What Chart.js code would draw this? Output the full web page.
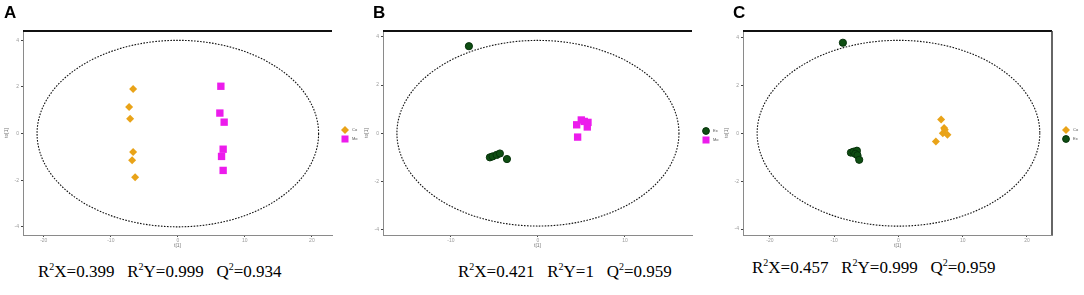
<!DOCTYPE html>
<html><head><meta charset="utf-8">
<script src="https://cdn.jsdelivr.net/npm/chart.js@4/dist/chart.umd.min.js"></script>
<style>
html,body{margin:0;padding:0;background:#fff}
body{width:1084px;height:295px;overflow:hidden;position:relative}
.panel{position:absolute;top:0;width:360px;height:250px}
.panel canvas{display:block}
.letter{position:absolute;top:3px;font:bold 17px "Liberation Sans",Arial,sans-serif;color:#000}
.stats{position:absolute;font-family:"Liberation Serif","Times New Roman",serif;font-size:17px;line-height:17px;white-space:pre;color:#000}
.stats sup{font-size:10px;line-height:0;vertical-align:0;position:relative;top:-7px}
</style>
</head><body>
<div class="panel" style="left:0"><canvas id="cA" width="360" height="250"></canvas></div>
<div class="panel" style="left:360px"><canvas id="cB" width="360" height="250"></canvas></div>
<div class="panel" style="left:720px"><canvas id="cC" width="364" height="250"></canvas></div>
<div class="letter" style="left:4px">A</div>
<div class="letter" style="left:373px">B</div>
<div class="letter" style="left:733px">C</div>
<div class="stats" style="left:38px;top:263px">R<sup>2</sup>X=0.399   R<sup>2</sup>Y=0.999   Q<sup>2</sup>=0.934</div>
<div class="stats" style="left:458px;top:263px">R<sup>2</sup>X=0.421   R<sup>2</sup>Y=1   Q<sup>2</sup>=0.959</div>
<div class="stats" style="left:752px;top:259px">R<sup>2</sup>X=0.457   R<sup>2</sup>Y=0.999   Q<sup>2</sup>=0.959</div>
<script>
// ---- Panel A data ----
const aOrangeX = [-6.67, -7.27, -7.12, -6.67, -6.82, -6.37];
const aOrangeY = [1.91, 1.14, 0.64, -0.79, -1.14, -1.87];
const aMagentaX = [6.42, 6.27, 6.91, 6.76, 6.52, 6.76];
const aMagentaY = [2.03, 0.88, 0.49, -0.67, -0.98, -1.58];
const aXTicks = [-20, -10, 0, 10, 20];
const aYTicks = [-4, -2, 0, 2, 4];
// ---- Panel B data ----
const bGreenX = [-7.93, -5.52, -5.21, -4.75, -4.37, -3.56];
const bGreenY = [3.61, -1.00, -0.96, -0.90, -0.84, -1.07];
const bMagentaX = [4.45, 4.98, 5.75, 5.67, 4.56, 5.32];
const bMagentaY = [0.35, 0.55, 0.45, 0.26, -0.16, 0.49];
const bXTicks = [-10, 0, 10];
const bYTicks = [-4, -2, 0, 2, 4];
// ---- Panel C data ----
const cOrangeX = [6.64, 7.11, 6.90, 7.62, 5.82, 7.21];
const cOrangeY = [0.57, 0.22, 0.00, -0.06, -0.35, 0.15];
const cGreenX = [-8.65, -7.40, -7.00, -6.47, -6.73, -6.38, -6.11];
const cGreenY = [3.78, -0.81, -0.77, -0.73, -0.86, -0.92, -1.11];
const cXTicks = [-20, -10, 0, 10, 20];
const cYTicks = [-4, -2, 0, 2, 4];
// ---- group labels / ellipse radii (data units) ----
const groupNames = {orange: 'Co', magenta: 'Mo', green: 'Ex'};
const ellipseA = [21, 4.0];
const ellipseB = [16.2, 3.85];
const ellipseC = [22, 3.88];

const STY = {
  orange: {pointStyle: 'rectRot', radius: 4, bg: '#E9A318', bd: '#E9A318'},
  magenta: {pointStyle: 'rect', radius: 5.2, bg: '#EC1CEC', bd: '#EC1CEC'},
  green: {pointStyle: 'circle', radius: 3.6, bg: '#0E4E12', bd: '#06320A'}
};

function pts(xs, ys){ return xs.map((x,i)=>({x:x, y:ys[i]})); }
function ds(key, xs, ys){
  const s = STY[key];
  return {label: groupNames[key], data: pts(xs, ys), pointStyle: s.pointStyle,
    pointRadius: s.radius, pointHoverRadius: s.radius, backgroundColor: s.bg,
    borderColor: s.bd, borderWidth: key==='green'?1:0, showLine:false, _key:key};
}

const deco = {
  id: 'deco',
  beforeDatasetsDraw(chart, args, o){
    const ctx = chart.ctx, xs = chart.scales.x, ys = chart.scales.y, ca = chart.chartArea;
    const cx = xs.getPixelForValue(0), cy = ys.getPixelForValue(0);
    const rx = xs.getPixelForValue(o.ell[0]) - cx, ry = cy - ys.getPixelForValue(o.ell[1]);
    ctx.save();
    ctx.strokeStyle = '#111'; ctx.lineWidth = 1.1; ctx.setLineDash([1.6, 1.4]);
    ctx.beginPath(); ctx.ellipse(cx, cy, rx, ry, 0, 0, Math.PI*2); ctx.stroke();
    ctx.setLineDash([]);
    ctx.strokeStyle = '#111'; ctx.lineWidth = 2;
    ctx.beginPath(); ctx.moveTo(ca.left, ca.top); ctx.lineTo(ca.right, ca.top); ctx.stroke();
    if (o.rightBorder){
      ctx.strokeStyle = '#333'; ctx.lineWidth = 1.5;
      ctx.beginPath(); ctx.moveTo(ca.right, ca.top); ctx.lineTo(ca.right, ca.bottom); ctx.stroke();
    }
    ctx.restore();
  },
  afterDraw(chart, args, o){
    const ctx = chart.ctx;
    ctx.save();
    chart.data.datasets.forEach((d, i) => {
      const s = STY[d._key];
      const x = o.lx, y = o.ly + i*9;
      ctx.fillStyle = s.bg; ctx.strokeStyle = s.bd; ctx.lineWidth = 1;
      ctx.beginPath();
      if (s.pointStyle === 'circle'){ ctx.arc(x, y, 3.4, 0, Math.PI*2); ctx.fill(); ctx.stroke(); }
      else if (s.pointStyle === 'rect'){ ctx.fillRect(x-3.5, y-3.5, 7, 7); }
      else { ctx.moveTo(x, y-4); ctx.lineTo(x+4, y); ctx.lineTo(x, y+4); ctx.lineTo(x-4, y); ctx.closePath(); ctx.fill(); }
      ctx.fillStyle = '#555'; ctx.font = '4px "Liberation Sans", Arial';
      ctx.textBaseline = 'middle';
      ctx.fillText(d.label, x + 7, y);
    });
    ctx.restore();
  }
};

function makeChart(id, datasets, xr, yr, xt, yt, ell, rightBorder, lx, ly, padRight){
  const fix = (arr) => function(scale){ scale.ticks = arr.map(v => ({value: v})); };
  return new Chart(document.getElementById(id), {
    type: 'scatter',
    data: {datasets: datasets},
    plugins: [deco],
    options: {
      responsive: false, animation: false, events: [],
      layout: {padding: {top: 31, right: padRight, left: 4, bottom: 0}},
      plugins: {legend: {display: false}, tooltip: {enabled: false},
        deco: {ell: ell, rightBorder: rightBorder, lx: lx, ly: ly}},
      scales: {
        x: {type: 'linear', min: xr[0], max: xr[1], afterBuildTicks: fix(xt),
          afterFit(s){ s.height = 15; },
          grid: {display: true, drawOnChartArea: false, tickLength: 2, color: '#444'},
          border: {display: true, color: '#8a8a8a', width: 1},
          ticks: {font: {size: 5}, color: '#9a9a9a', padding: 1, maxRotation: 0, autoSkip: false},
          title: {display: true, text: 't[1]', font: {size: 5}, color: '#777', padding: {top: 0, bottom: 1}}},
        y: {type: 'linear', min: yr[0], max: yr[1], afterBuildTicks: fix(yt),
          afterFit(s){ s.width = 19; },
          grid: {display: true, drawOnChartArea: false, tickLength: 2, color: '#444'},
          border: {display: true, color: '#8a8a8a', width: 1},
          ticks: {font: {size: 5}, color: '#9a9a9a', padding: 2, autoSkip: false},
          title: {display: true, text: 'to[1]', font: {size: 5}, color: '#777', padding: {top: 0, bottom: 4}}}
      }
    }
  });
}

makeChart('cA', [ds('orange', aOrangeX, aOrangeY), ds('magenta', aMagentaX, aMagentaY)],
  [-23.1, 23.0], [-4.35, 4.4], aXTicks, aYTicks, ellipseA, false, 345, 130, 28);
makeChart('cB', [ds('green', bGreenX, bGreenY), ds('magenta', bMagentaX, bMagentaY)],
  [-17.8, 17.7], [-4.22, 4.24], bXTicks, bYTicks, ellipseB, false, 346, 131, 28);
makeChart('cC', [ds('orange', cOrangeX, cOrangeY), ds('green', cGreenX, cGreenY)],
  [-24.2, 23.9], [-4.25, 4.27], cXTicks, cYTicks, ellipseC, true, 346, 130, 32);
</script>
</body></html>
